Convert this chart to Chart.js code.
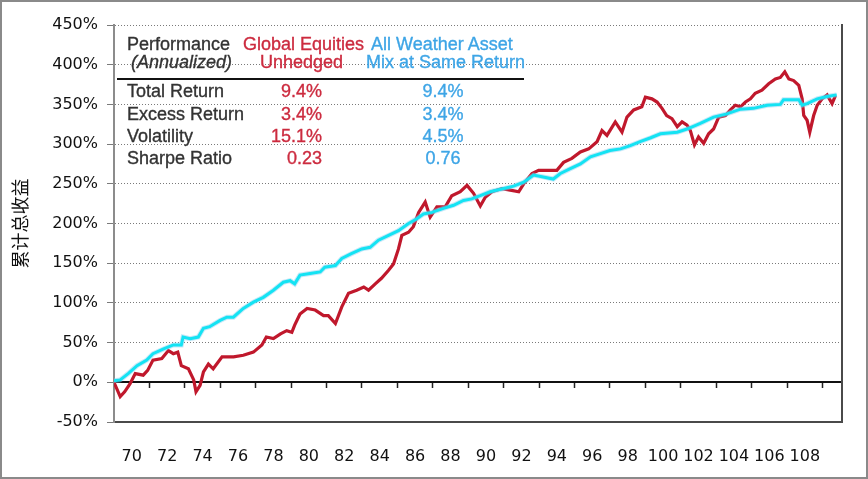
<!DOCTYPE html>
<html>
<head>
<meta charset="utf-8">
<script src="https://cdn.jsdelivr.net/npm/chart.js@4.4.1/dist/chart.umd.min.js"></script>
<style>
    html, body { margin: 0; padding: 0; background: #fff; }
    #wrap { position: relative; width: 868px; height: 479px; }
    #frame { position: absolute; left: 0; top: 0; width: 868px; height: 479px; box-sizing: border-box; border: 2px solid #8a8a8a; pointer-events: none; }
    .t { position: absolute; font-family: 'Liberation Sans', Arial, sans-serif; font-size: 18px; line-height: 18px; white-space: nowrap; color: #333; -webkit-text-stroke: 0.35px currentColor; }
    .red { color: #cc2b3f; }
    .blue { color: #3ea5e6; }
    #rule { position: absolute; left: 117px; top: 78px; width: 407px; height: 2px; background: #111; }
</style>
</head>
<body>
<div id="wrap">
    <canvas id="chart" width="868" height="479"></canvas>
    <div id="table"></div>
    <div id="frame"></div>
</div>
<script>
// ── Datos ────────────────────────────────────────────────────────────────
// Global Equities Unhedged (rojo)
const equityYears = [
    1970.0, 1970.35, 1970.6, 1970.9, 1971.2, 1971.65, 1971.9, 1972.2, 1972.7, 1973.07,
    1973.35, 1973.6, 1973.8, 1974.2, 1974.5, 1974.63, 1974.86, 1975.05, 1975.33, 1975.6,
    1976.1, 1976.75, 1977.3, 1977.87, 1978.35, 1978.6, 1979.0, 1979.4, 1979.75, 1980.04,
    1980.2, 1980.5, 1980.9, 1981.36, 1981.83, 1982.1, 1982.5, 1982.86, 1983.24, 1983.7,
    1984.1, 1984.37, 1984.75, 1985.1, 1985.5, 1985.78, 1986.06, 1986.25, 1986.63, 1986.9,
    1987.2, 1987.57, 1987.85, 1988.23, 1988.7, 1989.07, 1989.55, 1989.93, 1990.3, 1990.68,
    1990.96, 1991.34, 1991.9, 1992.37, 1992.85, 1993.13, 1993.6, 1993.97, 1994.54, 1995.0,
    1995.38, 1995.85, 1996.33, 1996.8, 1997.27, 1997.55, 1997.83, 1998.3, 1998.68, 1998.96,
    1999.34, 1999.8, 2000.0, 2000.37, 2000.66, 2000.94, 2001.2, 2001.5, 2001.8, 2002.07,
    2002.35, 2002.54, 2002.77, 2003.0, 2003.29, 2003.57, 2003.85, 2004.14, 2004.52, 2004.8,
    2005.08, 2005.37, 2005.65, 2005.93, 2006.2, 2006.58, 2006.96, 2007.34, 2007.62, 2007.87,
    2008.1, 2008.37, 2008.66, 2008.85, 2008.94, 2009.13, 2009.28, 2009.5, 2009.7, 2009.98,
    2010.26, 2010.54, 2010.73
];
const equityReturns = [
    0, -18, -12, -2, 11, 9, 15, 28, 30, 40,
    36, 38, 21, 17, 3, -12, -4, 13, 23, 17,
    32, 32, 34, 38, 47, 57, 55, 61, 65, 63,
    72, 86, 93, 91, 84, 84, 74, 95, 112, 116,
    120, 116, 124, 131, 141, 149, 168, 185, 189, 196,
    214, 227, 208, 221, 221, 235, 240, 248, 238, 222,
    233, 240, 244, 242, 240, 250, 263, 267, 267, 267,
    277, 282, 290, 294, 303, 317, 311, 328, 315, 334,
    343, 347, 359, 357, 353, 345, 336, 332, 322, 328,
    324, 317, 299, 309, 301, 313, 319, 334, 336, 343,
    349, 347, 353, 357, 364, 368, 376, 382, 384, 391,
    382, 380, 374, 357, 336, 330, 315, 336, 349, 357,
    362, 351, 361
];

// All Weather Asset Mix at Same Return (cian)
const weatherYears = [
    1970.0, 1970.35, 1970.8, 1971.3, 1971.85, 1972.2, 1972.8, 1973.35, 1973.8, 1973.9,
    1974.3, 1974.76, 1975.05, 1975.4, 1975.99, 1976.37, 1976.74, 1977.3, 1977.87, 1978.43,
    1979.0, 1979.56, 1979.94, 1980.2, 1980.5, 1981.07, 1981.64, 1981.9, 1982.5, 1982.86,
    1983.4, 1983.99, 1984.46, 1984.93, 1985.5, 1986.06, 1986.63, 1987.1, 1987.47, 1987.95,
    1988.6, 1989.17, 1989.73, 1990.2, 1990.68, 1991.24, 1992.0, 1992.56, 1993.13, 1993.69,
    1994.16, 1994.8, 1995.2, 1995.76, 1996.33, 1996.9, 1997.46, 1998.0, 1998.6, 1999.15,
    1999.7, 2000.3, 2000.85, 2001.8, 2002.35, 2003.1, 2003.85, 2004.6, 2005.37, 2006.1,
    2006.87, 2007.62, 2007.8, 2008.66, 2008.85, 2009.13, 2009.7, 2010.26, 2010.8
];
const weatherReturns = [
    2, 3, 11, 21, 28, 36, 42, 47, 47, 57,
    55, 57, 68, 70, 78, 82, 82, 93, 101, 107,
    116, 126, 128, 124, 135, 137, 139, 145, 147, 156,
    162, 168, 170, 179, 185, 191, 200, 206, 212, 214,
    219, 223, 229, 231, 235, 240, 244, 247, 252, 261,
    259, 256, 263, 269, 275, 284, 288, 292, 294, 298,
    303, 308, 313, 315, 319, 326, 334, 338, 344, 345,
    349, 350, 356, 356, 349, 351, 357, 360, 362
];

// Ejes
const xTickYears = [1970, 1972, 1974, 1976, 1978, 1980, 1982, 1984, 1986, 1988, 1990,
                    1992, 1994, 1996, 1998, 2000, 2002, 2004, 2006, 2008, 2010];
const xLabelYears = [1971, 1973, 1975, 1977, 1979, 1981, 1983, 1985, 1987, 1989,
                     1991, 1993, 1995, 1997, 1999, 2001, 2003, 2005, 2007, 2009];
const xLabels = ['70', '72', '74', '76', '78', '80', '82', '84', '86', '88',
                 '90', '92', '94', '96', '98', '100', '102', '104', '106', '108'];

// Tabla de performance
const tableRows = ['Total Return', 'Excess Return', 'Volatility', 'Sharpe Ratio'];
const equityStats = ['9.4%', '3.4%', '15.1%', '0.23'];
const weatherStats = ['9.4%', '3.4%', '4.5%', '0.76'];

// ── Tabla (texto HTML sobre el gráfico) ──────────────────────────────────
const table = document.getElementById('table');
function addText(txt, cls, left, cy, align, extra) {
    const d = document.createElement('div');
    d.className = 't ' + (cls || '');
    d.textContent = txt;
    d.style.top = (cy - 9) + 'px';
    if (align === 'right') { d.style.right = (868 - left) + 'px'; }
    else if (align === 'center') { d.style.left = (left - 60) + 'px'; d.style.width = '120px'; d.style.textAlign = 'center'; }
    else { d.style.left = left + 'px'; }
    if (extra) Object.assign(d.style, extra);
    table.appendChild(d);
}
addText('Performance', '', 127, 44);
addText('Global Equities', 'red', 243, 44);
addText('All Weather Asset', 'blue', 371, 44);
addText('(Annualized)', '', 131, 62, null, { fontStyle: 'italic' });
addText('Unhedged', 'red', 260, 62);
addText('Mix at Same Return', 'blue', 366, 62);
const rule = document.createElement('div'); rule.id = 'rule'; table.appendChild(rule);
const rowY = [91, 114, 136, 158];
tableRows.forEach((r, i) => {
    addText(r, '', 127, rowY[i]);
    addText(equityStats[i], 'red', 322, rowY[i], 'right');
    addText(weatherStats[i], 'blue', 443, rowY[i], 'center');
});

// ── Gráfico ──────────────────────────────────────────────────────────────
const toPoints = (xs, ys) => xs.map((x, i) => ({ x: x, y: ys[i] }));
const tickFont = { family: 'DejaVu Sans', size: 16 };

new Chart(document.getElementById('chart'), {
    type: 'line',
    data: {
        datasets: [
            {
                label: 'All Weather Asset Mix',
                data: toPoints(weatherYears, weatherReturns),
                borderColor: '#14e3f3',
                borderWidth: 3,
                order: 0
            },
            {
                label: 'halo',
                data: toPoints(weatherYears, weatherReturns),
                borderColor: 'rgba(130, 205, 240, 0.45)',
                borderWidth: 5,
                order: 1
            },
            {
                label: 'Global Equities Unhedged',
                data: toPoints(equityYears, equityReturns),
                borderColor: '#c0182c',
                borderWidth: 3.2,
                order: 2
            }
        ]
    },
    options: {
        responsive: false,
        animation: false,
        elements: { point: { radius: 0 }, line: { tension: 0 } },
        layout: { padding: { top: 25, right: 26, bottom: 0, left: 0 } },
        plugins: { legend: { display: false }, tooltip: { enabled: false } },
        scales: {
            x: {
                type: 'linear', position: 'bottom', min: 1970, max: 2011.1,
                afterBuildTicks: s => { s.ticks = xLabelYears.map(v => ({ value: v })); },
                afterFit: s => { s.height = 57; },
                grid: { display: false, drawTicks: false },
                border: { display: true, color: '#4a4a4a', width: 2 },
                ticks: {
                    padding: 25, font: tickFont, color: '#111', maxRotation: 0, autoSkip: false,
                    callback: (v, i) => xLabels[i]
                }
            },
            x0: {
                type: 'linear', axis: 'x', position: { y: 0 }, min: 1970, max: 2011.1,
                afterBuildTicks: s => { s.ticks = xTickYears.map(v => ({ value: v })); },
                grid: { drawOnChartArea: false, drawTicks: true, tickLength: 5, tickColor: '#222', tickWidth: 1.5 },
                border: { display: true, color: '#111', width: 2 },
                ticks: { display: false }
            },
            y: {
                position: 'left', min: -50, max: 450,
                afterFit: s => { s.width = 114; },
                grid: { color: '#7a7a7a', lineWidth: 1, drawTicks: true, tickLength: 7, tickColor: '#7a7a7a', tickBorderDash: [] },
                border: { color: '#8c8c8c', width: 2, dash: [1, 2] },
                ticks: { stepSize: 50, padding: 9, font: tickFont, color: '#111', callback: v => v + '%' },
                title: {
                    display: true, text: '累计总收益',
                    font: { family: 'Noto Sans CJK SC', size: 18 }, color: '#111',
                    padding: { top: 9, bottom: 0 }
                }
            },
            y2: {
                position: 'right', min: 0, max: 1,
                afterFit: s => { s.width = 0; },
                grid: { display: false, drawTicks: false },
                ticks: { display: false },
                border: { display: true, color: '#4a4a4a', width: 2 }
            }
        }
    }
});
</script>
</body>
</html>
